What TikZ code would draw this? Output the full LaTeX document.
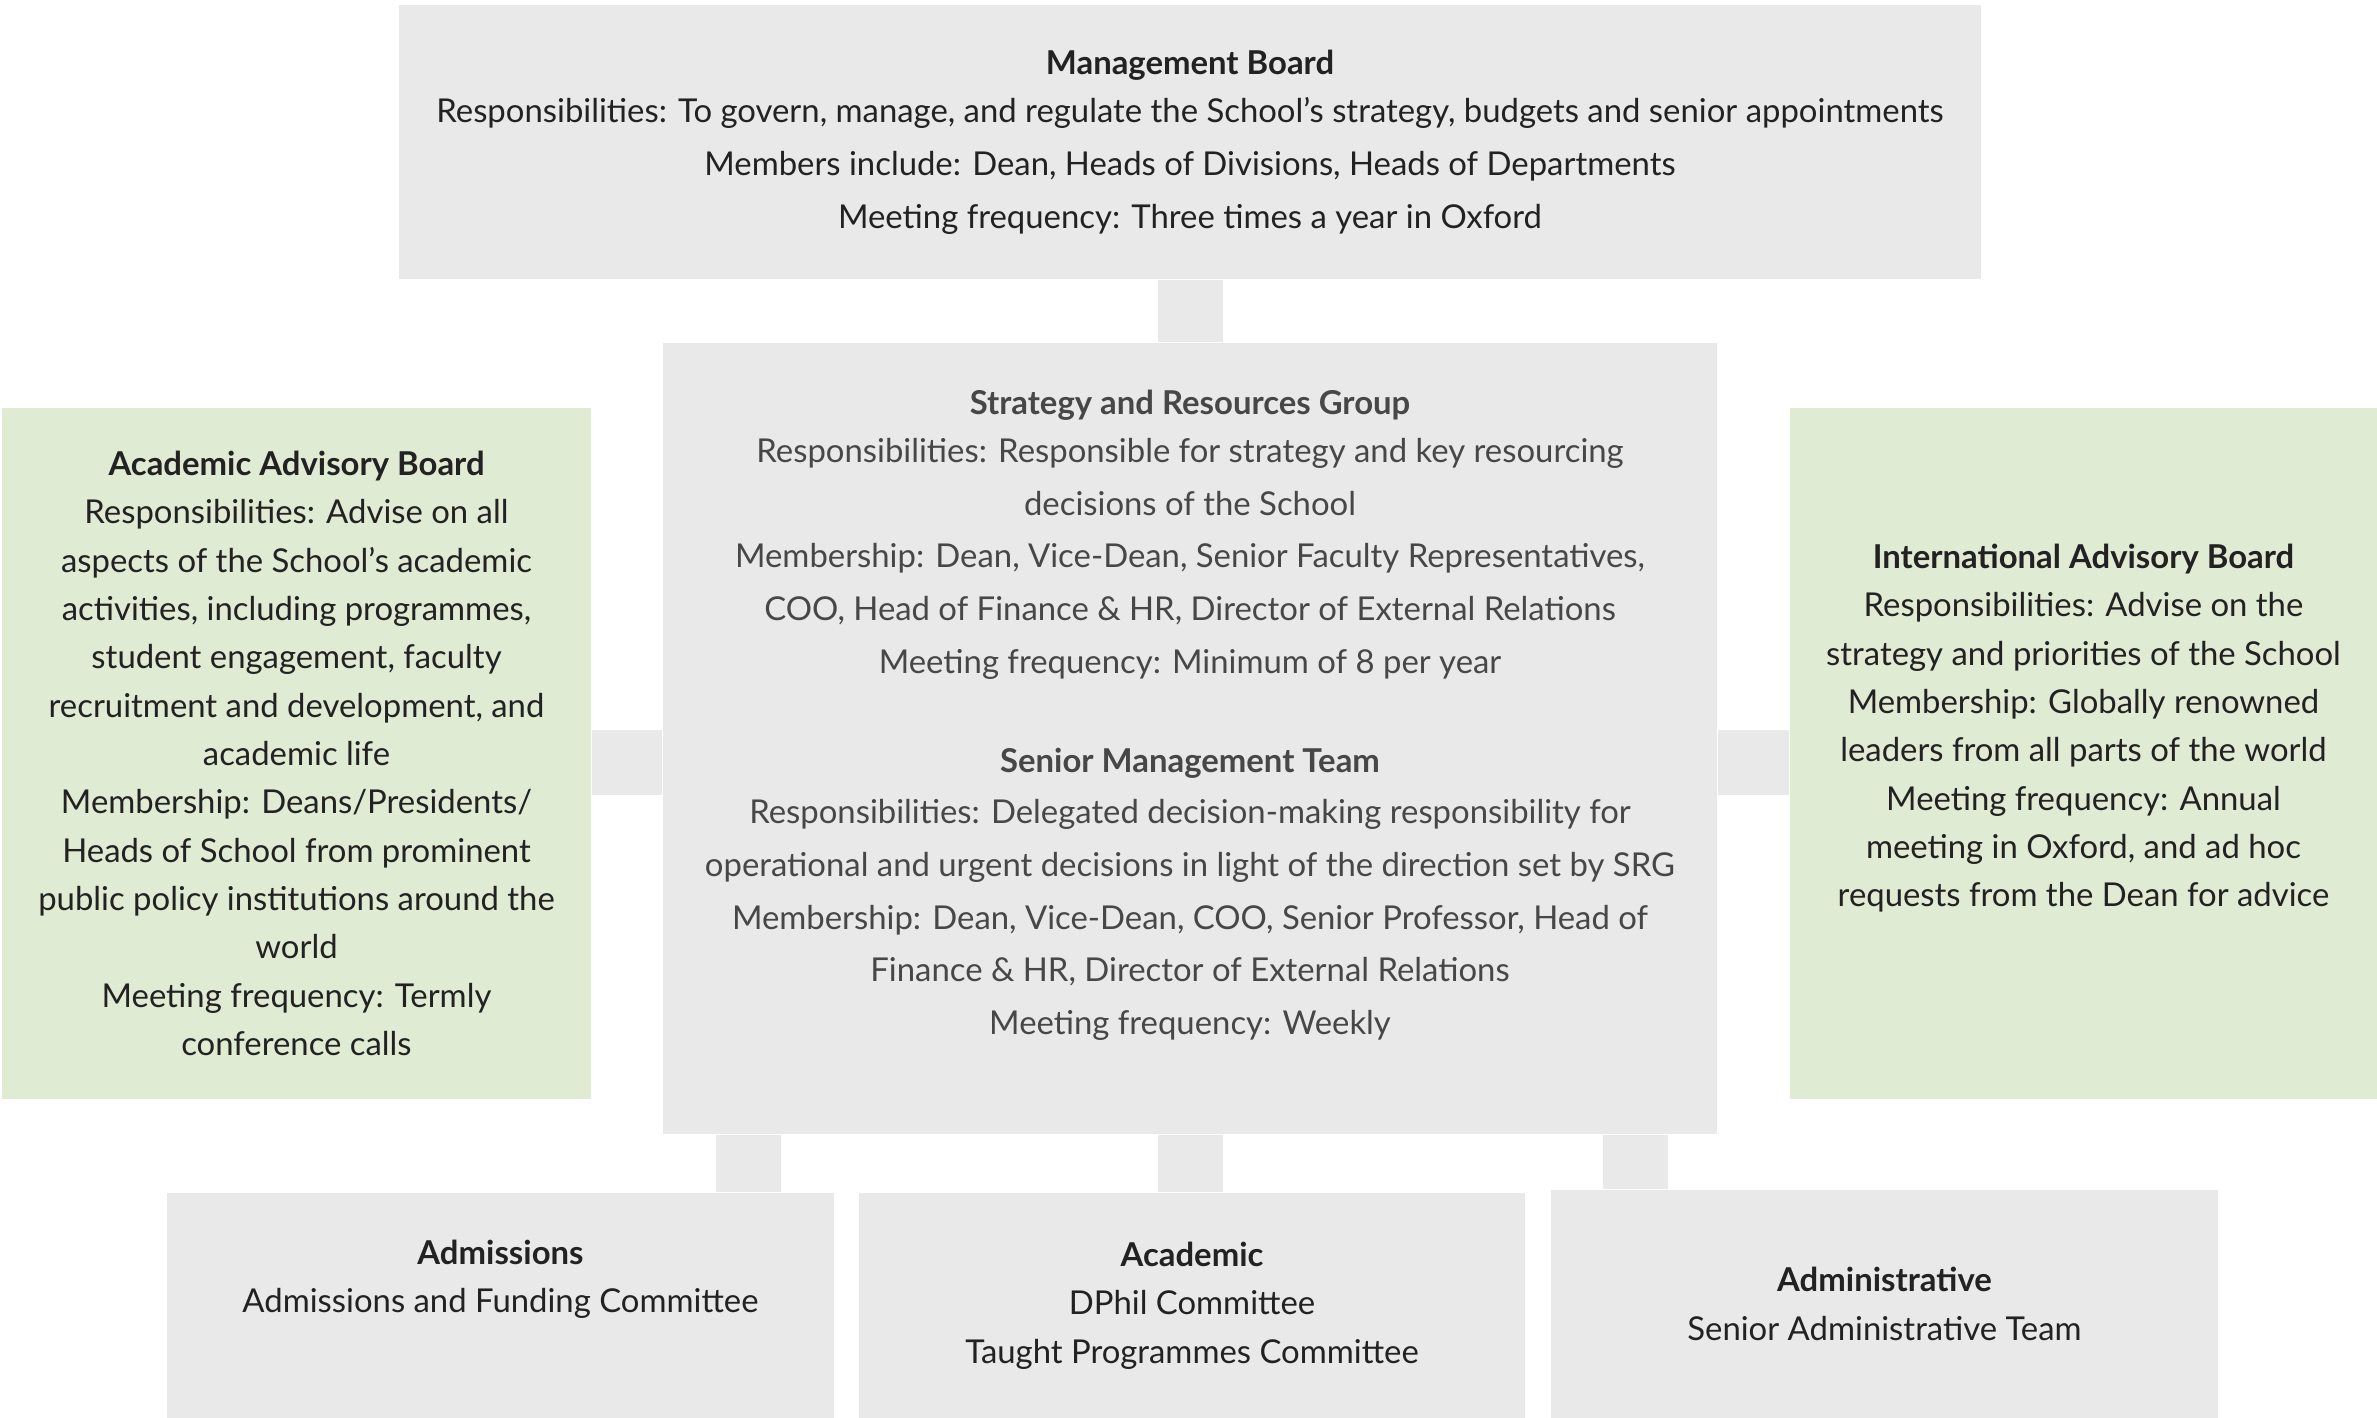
\documentclass[tikz,border=0pt]{standalone}
\usepackage{fontspec}
\setmainfont{Lato}
\definecolor{boxgray}{HTML}{E9E9E9}
\definecolor{boardgreen}{HTML}{DFEBD3}
\definecolor{inkdark}{HTML}{222222}
\definecolor{inkgray}{HTML}{474747}

\tikzset{
    panel/.style={fill=boxgray, align=center, inner sep=0pt, text=inkdark,
        font=\fontsize{9.35}{13.75}\selectfont},
    advisory/.style={panel, fill=boardgreen},
    link/.style={draw=boxgray, line width=0.65cm},
}

\begin{document}
\begin{tikzpicture}
    \useasboundingbox (0,0) rectangle (23.77,-14.18);
    % boards and groups
    \node[panel, minimum width=15.82cm, minimum height=2.74cm,
        font=\fontsize{9.35}{15}\selectfont] (mb) at (11.90,-1.42)
        {\textbf{Management Board}\\[-0.045cm]
        Responsibilities: To govern, manage, and regulate the School’s strategy, budgets and senior appointments\\
        Members include: Dean, Heads of Divisions, Heads of Departments\\
        Meeting frequency: Three times a year in Oxford};
    \node[panel, minimum width=10.54cm, minimum height=7.91cm, text=inkgray,
        font=\fontsize{9.35}{15}\selectfont] (core) at (11.90,-7.385)
        {\textbf{Strategy and Resources Group}\\[-0.045cm]
        Responsibilities: Responsible for strategy and key resourcing\\
        decisions of the School\\
        Membership: Dean, Vice-Dean, Senior Faculty Representatives,\\
        COO, Head of Finance \& HR, Director of External Relations\\
        Meeting frequency: Minimum of 8 per year\\[0.47cm]
        \textbf{Senior Management Team}\\[-0.02cm]
        Responsibilities: Delegated decision-making responsibility for\\
        operational and urgent decisions in light of the direction set by SRG\\
        Membership: Dean, Vice-Dean, COO, Senior Professor, Head of\\
        Finance \& HR, Director of External Relations\\
        Meeting frequency: Weekly\\ \mbox{}};
    \node[advisory, minimum width=5.89cm, minimum height=6.91cm] (aab) at (2.965,-7.535)
        {\textbf{Academic Advisory Board}\\
        Responsibilities: Advise on all\\
        aspects of the School’s academic\\
        activities, including programmes,\\
        student engagement, faculty\\
        recruitment and development, and\\
        academic life\\
        Membership: Deans/Presidents/\\
        Heads of School from prominent\\
        public policy institutions around the\\
        world\\
        Meeting frequency: Termly\\
        conference calls};
    \node[advisory, minimum width=5.87cm, minimum height=6.91cm] (iab) at (20.835,-7.535)
        {\textbf{International Advisory Board}\\
        Responsibilities: Advise on the\\
        strategy and priorities of the School\\
        Membership: Globally renowned\\
        leaders from all parts of the world\\
        Meeting frequency: Annual\\
        meeting in Oxford, and ad hoc\\
        requests from the Dean for advice\\[0.08cm] \mbox{}};
    % committees
    \node[panel, minimum width=6.67cm, minimum height=2.25cm] (adm) at (5.005,-13.055)
        {\textbf{Admissions}\\
        Admissions and Funding Committee\\[0.1cm] \mbox{}};
    \node[panel, minimum width=6.66cm, minimum height=2.25cm] (aca) at (11.92,-13.055)
        {\textbf{Academic}\\
        DPhil Committee\\
        Taught Programmes Committee};
    \node[panel, minimum width=6.67cm, minimum height=2.28cm] (adv) at (18.845,-13.04)
        {\textbf{Administrative}\\
        Senior Administrative Team};
    % links
    \coordinate (mid) at (0,-7.63);
    \draw[link] (mb.south) -- (core.north);
    \draw[link] (aab.east |- mid) -- (core.west |- mid);
    \draw[link] (core.east |- mid) -- (iab.west |- mid);
    \draw[link] ([xshift=0.86cm]core.south west) -- ([xshift=0.86cm]core.south west |- adm.north);
    \draw[link] (core.south) -- (core.south |- aca.north);
    \draw[link] ([xshift=-0.82cm]core.south east) -- ([xshift=-0.82cm]core.south east |- adv.north);
\end{tikzpicture}
\end{document}
